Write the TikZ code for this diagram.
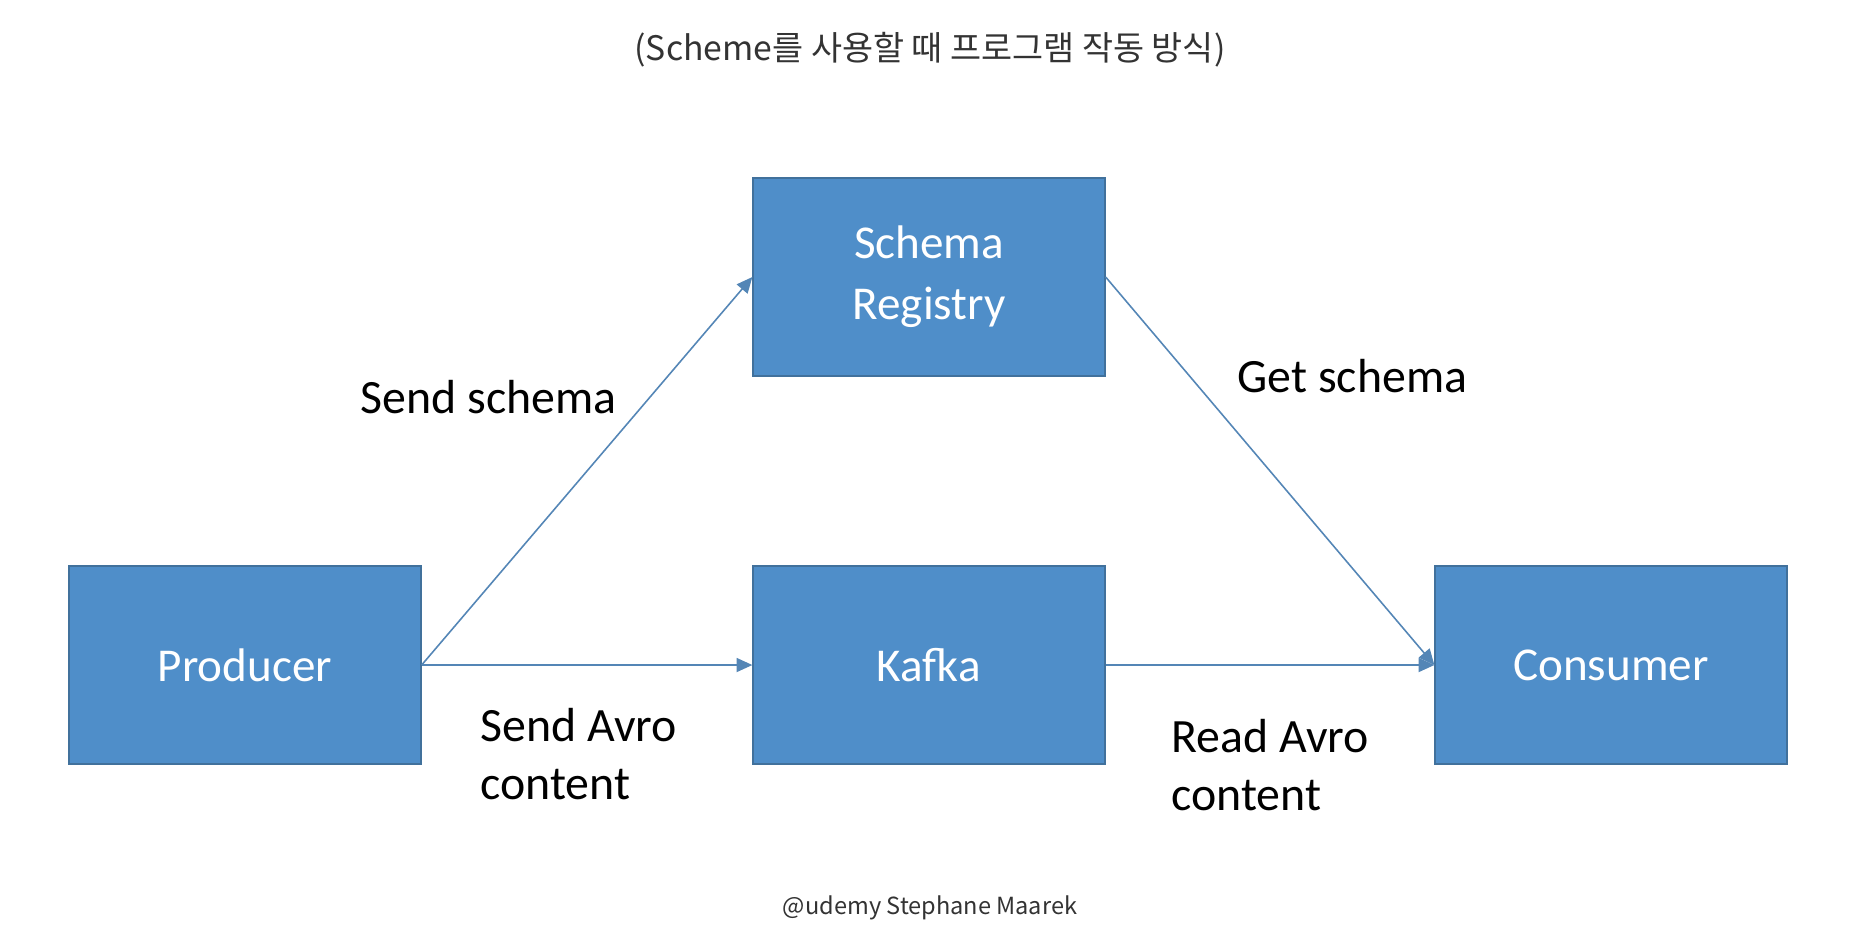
\documentclass[tikz,border=0pt]{standalone}
\usepackage{fontspec}
\setmainfont{Carlito}
\newfontfamily\krfont{Noto Sans CJK KR}
\usetikzlibrary{arrows.meta}
\definecolor{boxblue}{RGB}{79,142,201}
\definecolor{boxline}{RGB}{65,113,156}
\definecolor{arrowblue}{RGB}{84,134,182}

\begin{document}
\begin{tikzpicture}[x=0.01cm,y=-0.01cm,
	block/.style={draw=boxline,line width=0.6pt,fill=boxblue,text=white,minimum width=3.51cm,minimum height=1.98cm,align=center,font=\fontsize{13.4}{17.3}\selectfont},
	lbl/.style={anchor=west,align=left,inner sep=0pt,font=\fontsize{13.6}{16.5}\selectfont},
	flow/.style={draw=arrowblue,line width=0.45pt,-{Triangle[length=4.5pt,width=4pt]}}]
			\useasboundingbox (0,0) rectangle (1858,926);
			% title and source
			\node[font=\krfont\fontsize{9.6}{11}\selectfont,text=black!80] (Title) at (930,50) {(Scheme를 사용할 때 프로그램 작동 방식)};
			\node[font=\krfont\fontsize{6.7}{8}\selectfont,text=black!80] (Source) at (930,908) {@udemy Stephane Maarek};
			
			% boxes
			\node[block] (Registry) at (929,277) {Schema\\Registry};
			\node[block] (Producer) at (245,665) {Producer};
			\node[block] (Kafka) at (929,665) {Kafka};
			\node[block] (Consumer) at (1611,665) {Consumer};
			
			\draw[flow] (Producer.east) to (Registry.west);
			\draw[flow] (Producer.east) to (Kafka.west);
			\draw[flow] (Kafka.east) to (Consumer.west);
			\draw[flow] (Registry.east) to (Consumer.west);
			
			\node[lbl] (SendSchema) at (360,397) {Send schema};
			\node[lbl] (GetSchema) at (1237,376) {Get schema};
			\node[lbl] (SendAvro) at (480,754) {Send Avro\\content};
			\node[lbl] (ReadAvro) at (1171,765) {Read Avro\\content};
			
			\end{tikzpicture}
\end{document}
